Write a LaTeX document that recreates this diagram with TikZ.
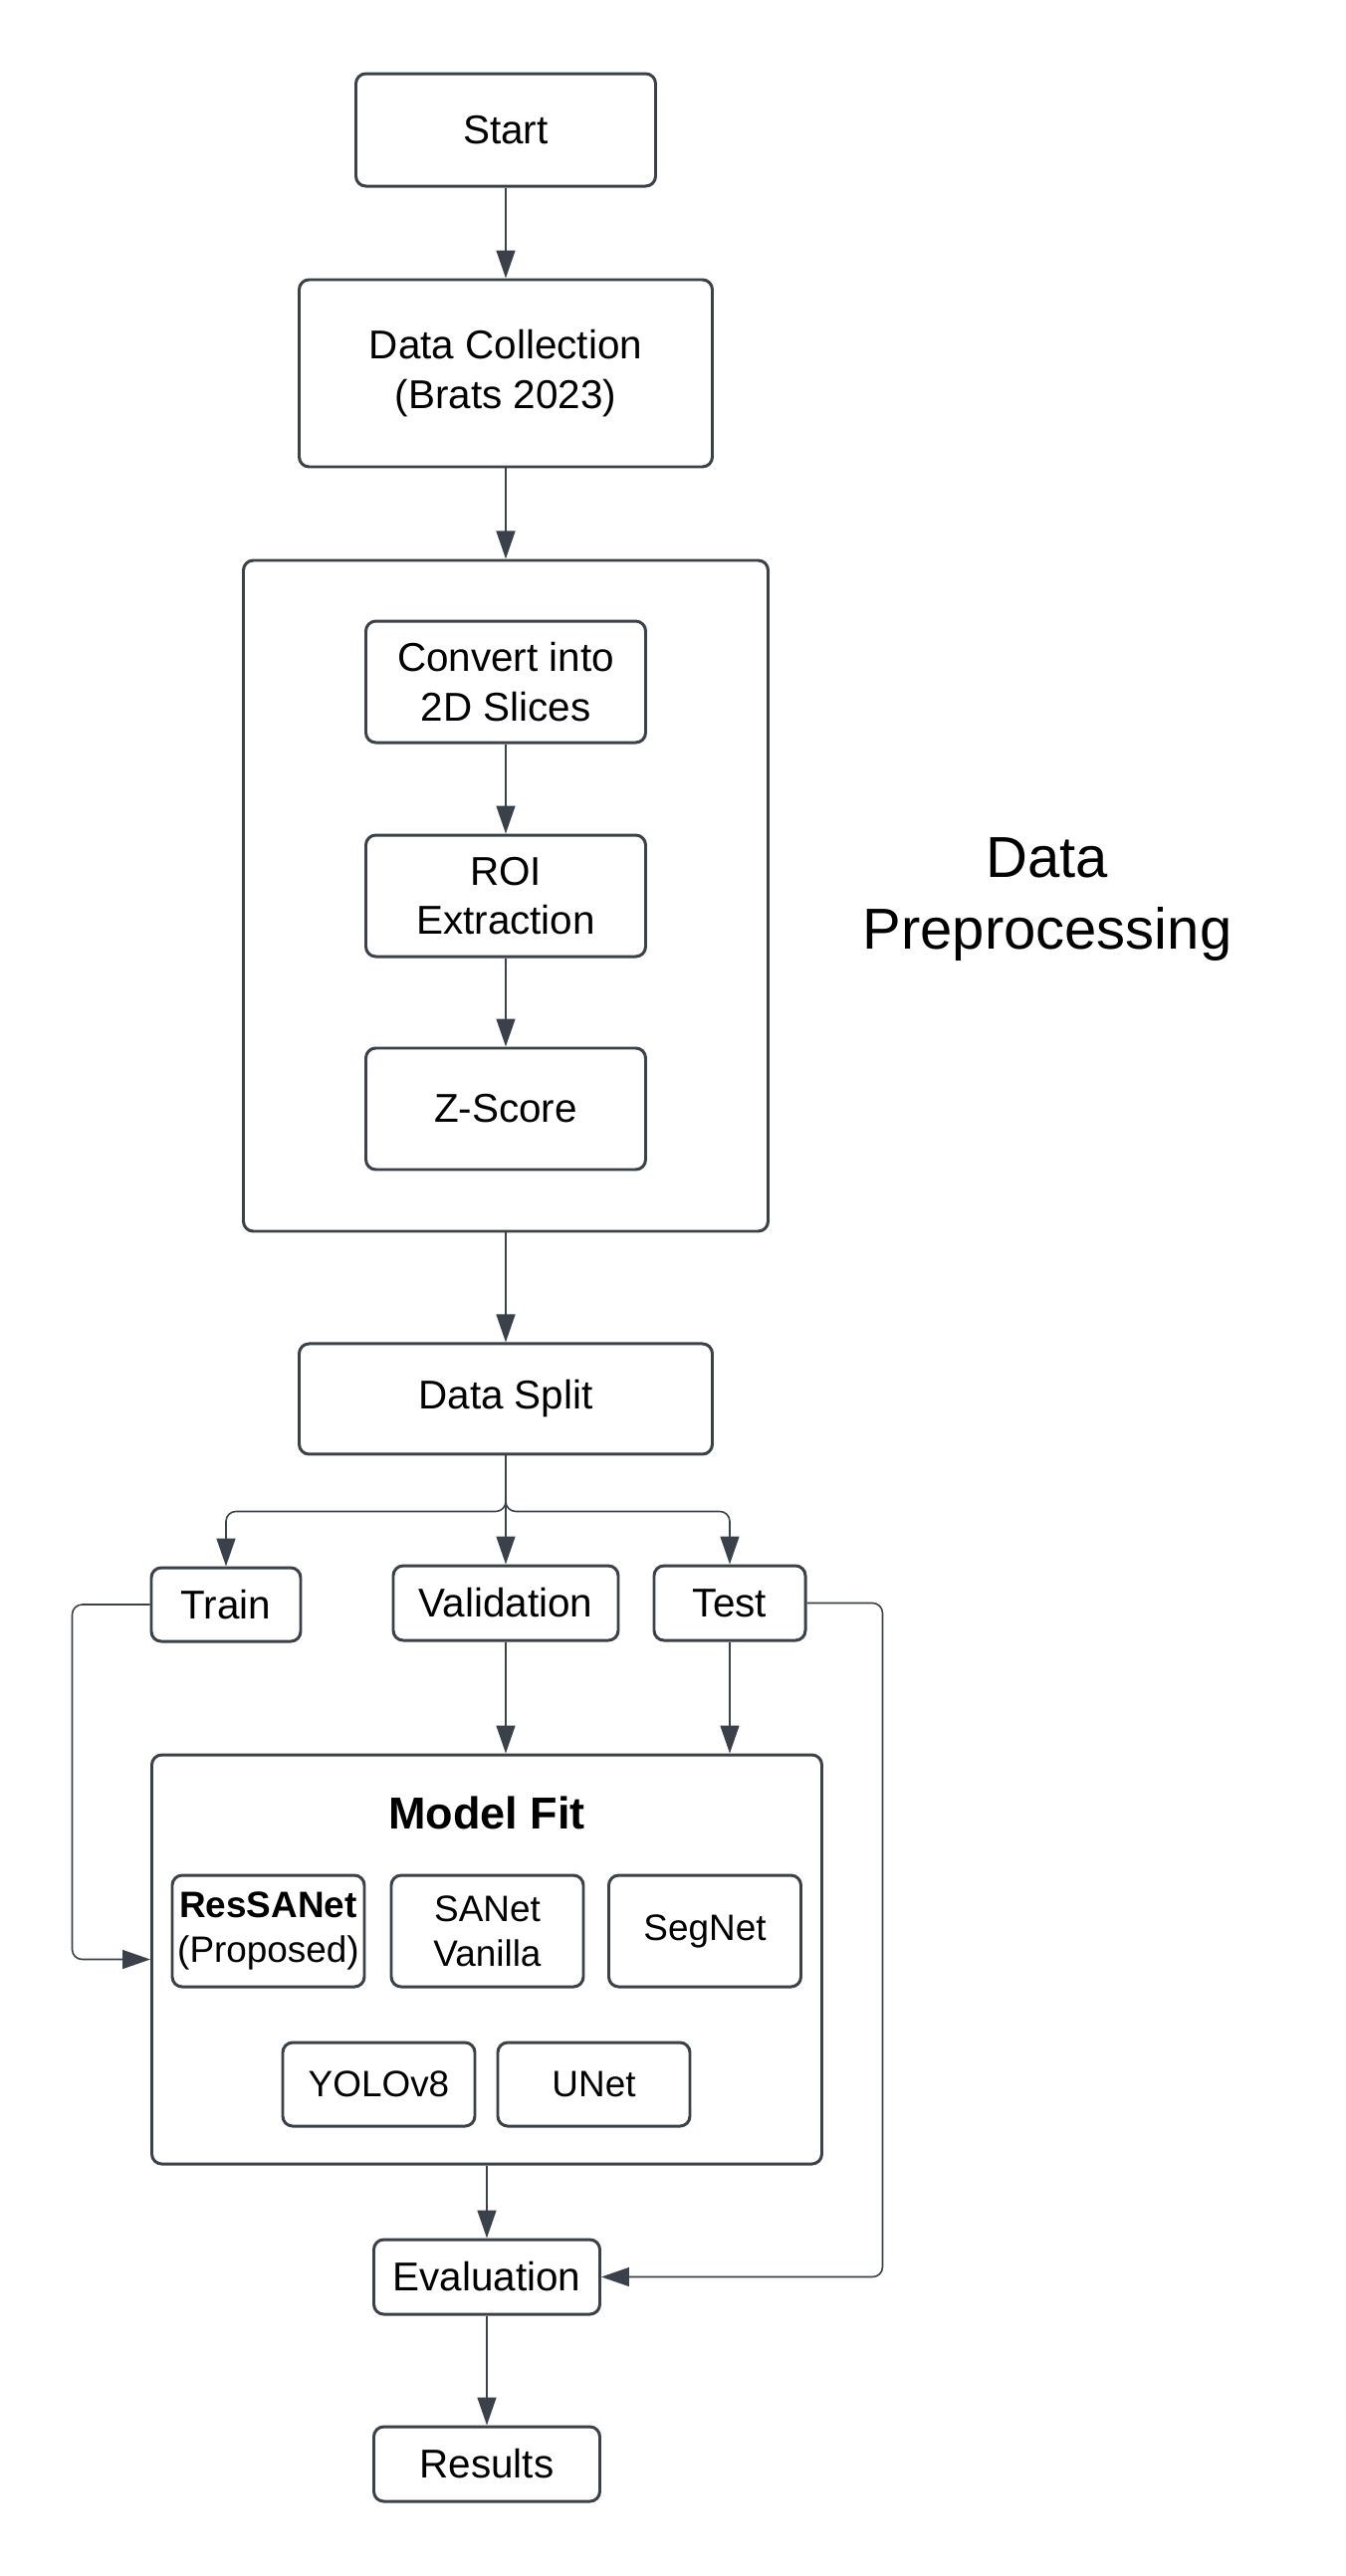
\documentclass[tikz,border=0pt]{standalone}
\usepackage{fontspec}
\setmainfont{Liberation Sans}
\usepackage{tikz}
\usetikzlibrary{positioning,arrows.meta,calc}
\definecolor{edge}{HTML}{3A414A}
\tikzset{
procbox/.style={
  draw=edge,
  line width=0.85pt,
  rounded corners=0.1cm,
  align=center,
  inner sep=0pt,
  font=\fontsize{11.5}{14}\selectfont
},
groupbox/.style={
  draw=edge,
  line width=0.85pt,
  rounded corners=0.1cm,
  inner sep=0pt
},
modelbox/.style={
  procbox,
  minimum width=1.93cm,
  font=\fontsize{10.5}{12.8}\selectfont
},
flow/.style={
  draw=edge,
  line width=0.45pt,
  -{Triangle[length=2.8mm,width=1.9mm]}
}
}

\begin{document}
\begin{tikzpicture}
  \useasboundingbox (0,0) rectangle (13.52,-25.88);

  \node[procbox,minimum width=3.01cm,minimum height=1.13cm] at (5.08,-1.305) (start) {Start};
  \node[procbox,minimum width=4.15cm,minimum height=1.88cm,below=0.91cm of start] (collect) {Data Collection\\(Brats 2023)};
  \node[groupbox,minimum width=5.27cm,minimum height=6.74cm,below=0.91cm of collect] (prep) {};

  \node[procbox,minimum width=2.81cm,minimum height=1.22cm] at (5.08,-6.85) (slices) {Convert into\\2D Slices};
  \node[procbox,minimum width=2.81cm,minimum height=1.22cm,below=0.90cm of slices] (roi) {ROI\\Extraction};
  \node[procbox,minimum width=2.81cm,minimum height=1.22cm,below=0.89cm of roi] (zscore) {Z-Score};

  \node[align=center,font=\fontsize{16.5}{20.5}\selectfont] at (10.52,-9.04) (preplabel) {Data\\Preprocessing};

  \node[procbox,minimum width=4.15cm,minimum height=1.11cm,below=1.10cm of prep] (split) {Data Split};

  \node[procbox,minimum width=1.50cm,minimum height=0.74cm] at (2.27,-16.12) (train) {Train};
  \node[procbox,minimum width=2.26cm,minimum height=0.75cm] at (5.08,-16.105) (valid) {Validation};
  \node[procbox,minimum width=1.52cm,minimum height=0.75cm] at (7.33,-16.105) (test) {Test};

  \node[groupbox,minimum width=6.73cm,minimum height=4.11cm] at (4.89,-19.685) (fit) {};
  \node[font=\fontsize{12.8}{15}\selectfont\bfseries] at (4.89,-18.21) (fitlabel) {Model Fit};

  \node[modelbox,minimum height=1.12cm] at (2.695,-19.40) (ressanet) {\textbf{ResSANet}\\(Proposed)};
  \node[modelbox,minimum height=1.12cm] at (4.895,-19.40) (sanet) {SANet\\Vanilla};
  \node[modelbox,minimum height=1.12cm] at (7.08,-19.40) (segnet) {SegNet};
  \node[modelbox,minimum height=0.84cm] at (3.805,-20.94) (yolo) {YOLOv8};
  \node[modelbox,minimum height=0.84cm] at (5.965,-20.94) (unet) {UNet};

  \node[procbox,minimum width=2.27cm,minimum height=0.75cm] at (4.89,-22.875) (eval) {Evaluation};
  \node[procbox,minimum width=2.27cm,minimum height=0.75cm] at (4.89,-24.755) (results) {Results};

  \draw[flow] (start) -- (collect);
  \draw[flow] (collect) -- (prep);
  \draw[flow] (slices) -- (roi);
  \draw[flow] (roi) -- (zscore);
  \draw[flow] (prep) -- (split);

  \draw[flow,rounded corners=0.1cm] (split.south) -- ++(0,-0.56) -| (train.north);
  \draw[flow,rounded corners=0.1cm] (split.south) -- ++(0,-0.56) -| (test.north);
  \draw[flow] (split.south) -- (valid.north);

  \draw[flow,rounded corners=0.1cm] (train.west) -- ++(-0.78,0) |- (fit.west);
  \draw[flow] (valid.south) -- (valid.south |- fit.north);
  \draw[flow] (test.south) -- (test.south |- fit.north);
  \draw[flow,rounded corners=0.1cm] (test.east) -- ++(0.76,0) |- (eval.east);

  \draw[flow] (fit.south) -- (eval.north);
  \draw[flow] (eval) -- (results);
\end{tikzpicture}
\end{document}
